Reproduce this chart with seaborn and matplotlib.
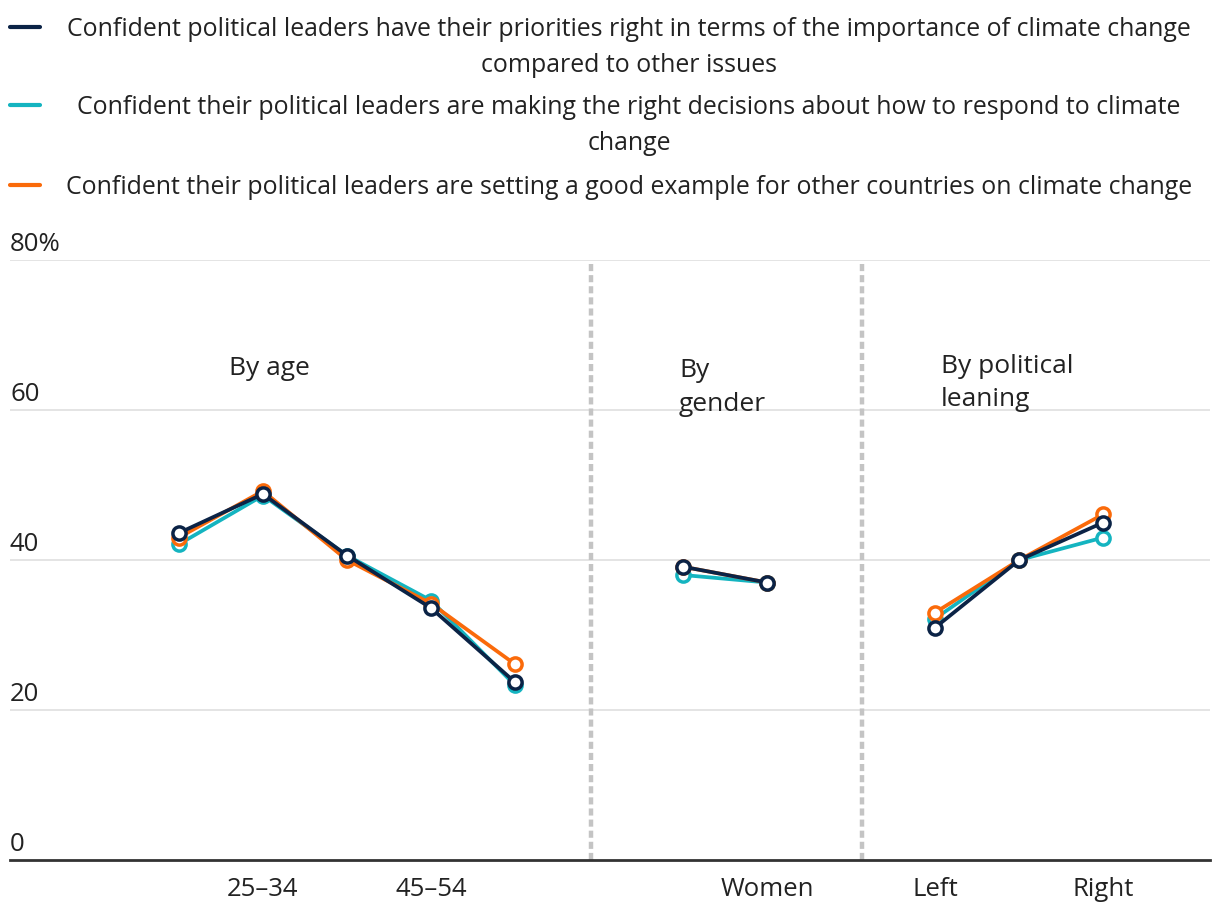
import matplotlib
matplotlib.use("Agg")
import matplotlib.pyplot as plt
from matplotlib.lines import Line2D
import seaborn as sns
import pandas as pd

# categories (all groups), only some get a visible tick label
categories = ['18–24', '25–34', '35–44', '45–54', '55+',
              'Men', 'Women',
              'Left', 'Centre', 'Right']
groups = ['age'] * 5 + ['gender'] * 2 + ['politics'] * 3
positions = [0, 1, 2, 3, 4, 6, 7, 9, 10, 11]
shown_labels = ['', '25–34', '', '45–54', '', '', 'Women', 'Left', '', 'Right']

priorities = [43.6, 48.8, 40.6, 33.6, 23.7, 39.1, 37.0, 31.0, 40.0, 45.0]
decisions = [42.1, 48.6, 40.6, 34.6, 23.3, 38.0, 37.0, 32.2, 40.0, 43.0]
example = [43.0, 49.2, 40.0, 34.2, 26.1, 39.1, 37.0, 33.0, 40.0, 46.1]

series_names = [
    'Confident political leaders have their priorities right in terms of the importance of climate change\ncompared to other issues',
    'Confident their political leaders are making the right decisions about how to respond to climate\nchange',
    'Confident their political leaders are setting a good example for other countries on climate change',
]
colors = ['#0b2346', '#14b4c0', '#fa6a0a']

group_titles = ['By age', 'By\ngender', 'By political\nleaning']
group_title_x = [0.6, 5.95, 9.07]
group_title_y = [65.5, 63.0, 63.6]

sns.set_style('white')
plt.rcParams['font.family'] = ['Open Sans', 'DejaVu Sans']

fig = plt.figure(figsize=(12.2, 9.16), dpi=100)
ax = fig.add_axes([10 / 1220, 56 / 916, 1200 / 1220, 600 / 916])

values = [priorities, decisions, example]
# teal first, then orange, navy on top
draw_order = [1, 2, 0]
for z, idx in enumerate(draw_order):
    df = pd.DataFrame({'x': positions, 'y': values[idx], 'group': groups})
    sns.lineplot(data=df, x='x', y='y', units='group', estimator=None,
                 color=colors[idx], linewidth=2.7, marker='o', markersize=9.5,
                 markerfacecolor='white', markeredgecolor=colors[idx],
                 markeredgewidth=2.5, ax=ax, zorder=3 + z)

ax.set_xlim(-2.01, 12.27)
ax.set_ylim(0, 80)
ax.set_xlabel('')
ax.set_ylabel('')

for yv in [20, 40, 60, 80]:
    ax.axhline(yv, color='#e2e2e2', linewidth=1.3, zorder=1)

for s in ['top', 'right', 'left']:
    ax.spines[s].set_visible(False)
ax.spines['bottom'].set_color('#333333')
ax.spines['bottom'].set_linewidth(2)

ax.set_yticks([])
for yv in [0, 20, 40, 60, 80]:
    lab = '80%' if yv == 80 else str(yv)
    ax.text(0, yv + 0.35, lab, transform=ax.get_yaxis_transform(),
            ha='left', va='bottom', fontsize=18.5, color='#222222')

ax.set_xticks(positions)
ax.set_xticklabels(shown_labels, fontsize=18.5, color='#222222')
ax.tick_params(axis='x', length=0, pad=12)

for xd in [4.9, 8.13]:
    ax.axvline(xd, color='#c4c4c4', linewidth=3.2, linestyle=(0, (1.6, 0.9)), zorder=2)

for t, xt, yt in zip(group_titles, group_title_x, group_title_y):
    ax.text(xt, yt, t, ha='left', va='center', fontsize=19, color='#222222',
            linespacing=1.45)

# legend drawn manually: short handle on the left, centred text
legend_y = [27, 105, 185]
for name, c, yp in zip(series_names, colors, legend_y):
    yf = 1 - yp / 916
    fig.add_artist(Line2D([10 / 1220, 40 / 1220], [yf, yf], color=c, linewidth=3,
                          transform=fig.transFigure))
    fig.text(629 / 1220, yf + 10 / 916, name, ha='center', va='top', fontsize=17.9,
             color='#222222', linespacing=1.6, multialignment='center')

fig.savefig('out.png', dpi=100)
